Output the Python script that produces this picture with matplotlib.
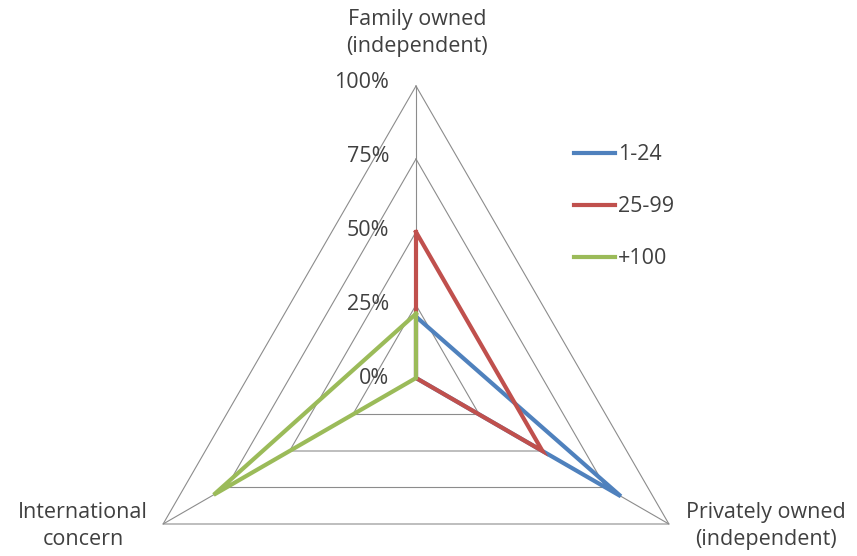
import numpy as np
import matplotlib
matplotlib.use("Agg")
import matplotlib.pyplot as plt

# data
categories = ["Family owned\n(independent)", "Privately owned\n(independent)", "International\nconcern"]
series_names = ["1-24", "25-99", "+100"]
values_1_24 = [0.21, 0.81, 0.0]
values_25_99 = [0.50, 0.50, 0.0]
values_100 = [0.22, 0.0, 0.80]
tick_values = [0.0, 0.25, 0.5, 0.75, 1.0]
tick_labels = ["0%", "25%", "50%", "75%", "100%"]

colors = ["#4F81BD", "#C0504D", "#9BBB59"]
grid_color = "#8C8C8C"
text_color = "#404040"
plt.rcParams["font.family"] = ["Open Sans", "DejaVu Sans"]
fs = 15.5

W, H = 857, 556
fig = plt.figure(figsize=(W / 100, H / 100), dpi=100)

# center of radar and radius in pixels
cx, cy, R = 416, 378, 292
ax = fig.add_axes([(cx - R) / W, (H - cy - R) / H, 2 * R / W, 2 * R / H], projection="polar")
ax.set_theta_offset(np.pi / 2)
ax.set_theta_direction(-1)
ax.set_ylim(0, 1)
ax.axis("off")

n = len(categories)
theta = np.linspace(0, 2 * np.pi, n, endpoint=False)
theta_closed = np.append(theta, theta[0])

# triangular gridlines
for t in tick_values[1:]:
    ax.plot(theta_closed, [t] * (n + 1), color=grid_color, lw=0.8, clip_on=False, zorder=1)
# spokes
for th in theta:
    ax.plot([th, th], [0, 1], color=grid_color, lw=0.8, clip_on=False, zorder=1)

# series
for vals, col, name in zip([values_1_24, values_25_99, values_100], colors, series_names):
    v = np.append(vals, vals[0])
    ax.plot(theta_closed, v, color=col, lw=3.0, label=name, clip_on=False, zorder=3,
            solid_joinstyle="miter")

# radial tick labels
for t, lab in zip(tick_values, tick_labels):
    x, y = cx - 27, cy - t * 295
    fig.text(x / W, 1 - y / H, lab, ha="right", va="center", fontsize=fs, color=text_color)

# category labels
fig.text(417 / W, 1 - 33 / H, categories[0], ha="center", va="center", fontsize=fs,
         color=text_color, linespacing=1.4)
fig.text(766 / W, 1 - 526 / H, categories[1], ha="center", va="center", fontsize=fs,
         color=text_color, linespacing=1.4)
fig.text(83 / W, 1 - 526 / H, categories[2], ha="center", va="center", fontsize=fs,
         color=text_color, linespacing=1.4)

leg = fig.legend(loc="upper left", bbox_to_anchor=(559 / W, 1 - 129 / H), frameon=False,
                 fontsize=fs, handlelength=1.9, handletextpad=0.15, labelspacing=1.45,
                 labelcolor=text_color, borderpad=0.2)

fig.savefig("out.png", dpi=100)
